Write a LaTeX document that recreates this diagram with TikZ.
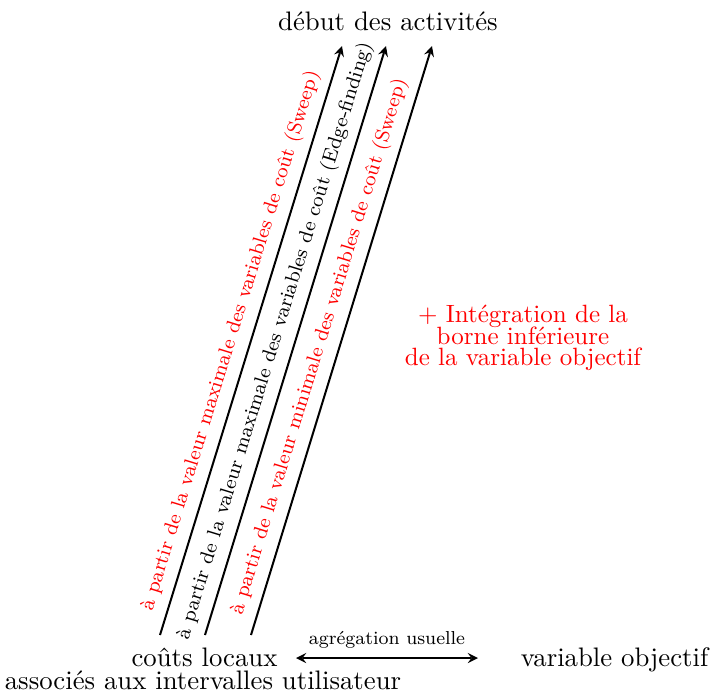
\documentclass[tikz,border=0pt]{standalone}
\usetikzlibrary{positioning, calc, arrows}

\begin{document}
\begin{tikzpicture}[x=0.01406cm, y=-0.01406cm,
		lbl/.style={midway, above, sloped, font=\footnotesize},
		txt/.style={anchor=base, font=\fontsize{10.7}{12.8}\selectfont}]
			\useasboundingbox (0,0) rectangle (710,692);
			\node (deb) [txt] at (388,30) {début des activités};
			\node (cout) [txt] at (204.5,666.7) {coûts locaux};
			\node (coutb) [txt] at (203,689.3) {associés aux intervalles utilisateur};
			\node (obj) [txt] at (614.5,666) {variable objectif};
			\node (integ) [align=center, color=red] at (523,338) {+ Intégration de la\\[-3.5pt]borne inférieure\\[-3.5pt]de la variable objectif};
			
			\coordinate (s1) at (160,635); \coordinate (e1) at (342,46);
			\coordinate (s2) at (205,635); \coordinate (e2) at (386,46);
			\coordinate (s3) at (251,635); \coordinate (e3) at (432,46);
			\coordinate (a1) at (296,658); \coordinate (a2) at (478,658);
			
			\draw [-stealth, thick] (s1) -- (e1) node[lbl, red, pos=0.49] {à partir de la valeur maximale des variables de coût (Sweep)};
			\draw [-stealth, thick] (s2) -- (e2) node[lbl, pos=0.49] {à partir de la valeur maximale des variables de coût (Edge-finding)};
			\draw [-stealth, thick] (s3) -- (e3) node[lbl, red, pos=0.48] {à partir de la valeur minimale des variables de coût (Sweep)};
			
			\draw [stealth-stealth, thick] (a1) -- (a2) node[midway, above, font=\fontsize{7.5}{9}\selectfont] {agrégation usuelle};
		\end{tikzpicture}
\end{document}
